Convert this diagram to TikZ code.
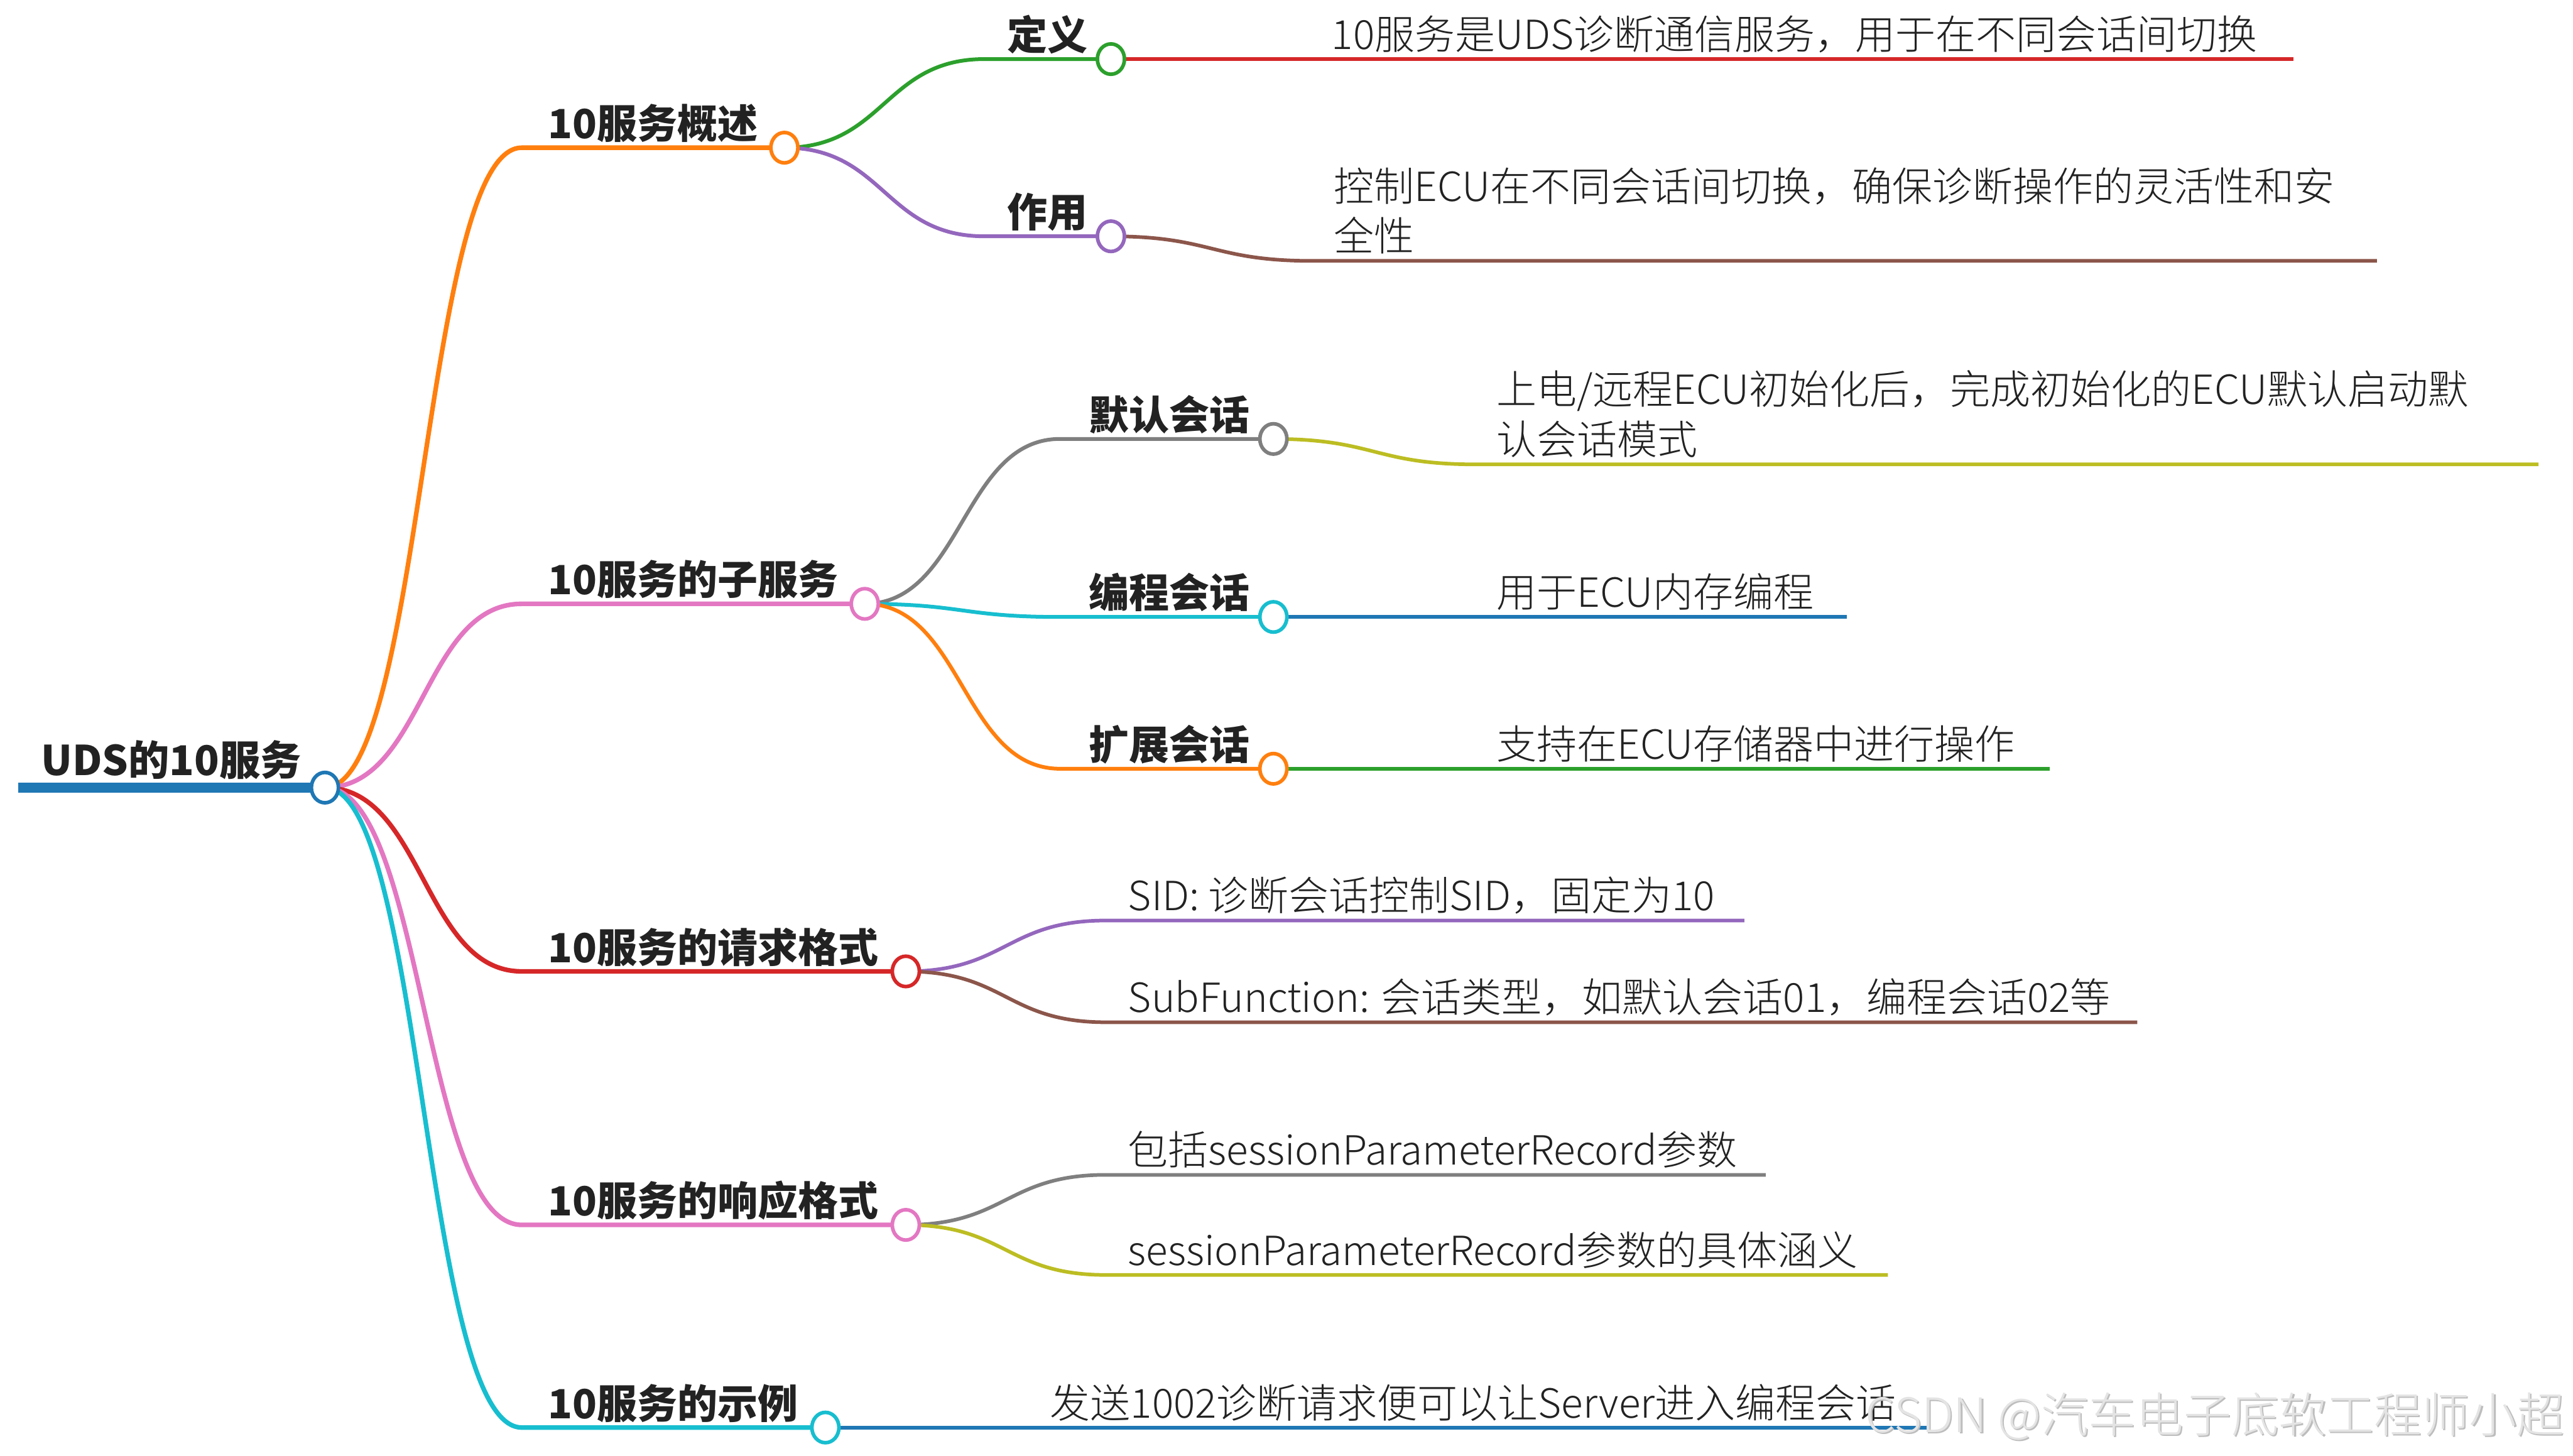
\documentclass[tikz,border=0pt]{standalone}
\usepackage{fontspec}
\setmainfont{Noto Sans CJK SC}
\newfontfamily\lightf{Noto Sans CJK SC Light}
\usetikzlibrary{calc,shapes.geometric}
\definecolor{cblue}{HTML}{1F77B4}
\definecolor{corange}{HTML}{FF7F0E}
\definecolor{cgreen}{HTML}{2CA02C}
\definecolor{cred}{HTML}{D62728}
\definecolor{cpurple}{HTML}{9467BD}
\definecolor{cbrown}{HTML}{8C564B}
\definecolor{cpink}{HTML}{E377C2}
\definecolor{cgray}{HTML}{7F7F7F}
\definecolor{colive}{HTML}{BCBD22}
\definecolor{ccyan}{HTML}{17BECF}
\definecolor{txt}{HTML}{222222}
\definecolor{wm}{HTML}{E4E4E4}
\definecolor{wmshadow}{HTML}{BDBDBD}
\newcommand\mmbranch[4]{\draw[#1] let \p1=(#2), \p2=(#3) in (\p1) .. controls ({(\x1+\x2)/2},\y1) and ({(\x1+\x2)/2},\y2) .. (\p2) -- (#4);}
\begin{document}
\begin{tikzpicture}[x=1pt,y=-1pt,
  lvone/.style={line width=2.8pt,line join=round},
  lvtwo/.style={line width=2.3pt,line join=round},
  lvleaf/.style={line width=2.2pt,line join=round},
  dot/.style={ellipse,draw,fill=white,line width=2.2pt,minimum width=16.5pt,minimum height=18.5pt,inner sep=0pt},
  lbl/.style={anchor=base west,inner sep=0pt,outer sep=0pt,text=txt},
  boldlbl/.style={lbl,font=\fontsize{24.5}{30.5}\selectfont\bfseries},
  rootlbl/.style={lbl,font=\fontsize{25}{30}\selectfont\bfseries},
  leaf/.style={lbl,font=\lightf\fontsize{24.5}{30.5}\selectfont},
  wmark/.style={anchor=base west,inner sep=0pt,font=\lightf\fontsize{29}{29}\selectfont}]
\useasboundingbox (0,0) rectangle (1568,887);
\fill[white] (0,0) rectangle (1568,887);
% centres and line starts
\coordinate (R) at (198,480);   \coordinate (Rs) at (11,480);
\coordinate (As) at (318,90);   \coordinate (A) at (478,90);
\coordinate (Bs) at (318,368);  \coordinate (B) at (527,368);
\coordinate (Cs) at (318,592);  \coordinate (C) at (552,592);
\coordinate (Ds) at (318,746.5);\coordinate (D) at (552,746.5);
\coordinate (Es) at (318,870);  \coordinate (E) at (503,870);
\coordinate (A1s) at (600,36);  \coordinate (A1) at (677,36);
\coordinate (A2s) at (600,144); \coordinate (A2) at (677,144);
\coordinate (B1s) at (646,267.5); \coordinate (B1) at (776,267.5);
\coordinate (B2s) at (646,376);   \coordinate (B2) at (776,376);
\coordinate (B3s) at (646,468.5); \coordinate (B3) at (776,468.5);
\coordinate (L1s) at (800,36);    \coordinate (L1e) at (1397.5,36);
\coordinate (L2s) at (800,159);   \coordinate (L2e) at (1448.5,159);
\coordinate (L3s) at (899,283);   \coordinate (L3e) at (1547,283);
\coordinate (L4s) at (899,376);   \coordinate (L4e) at (1125.5,376);
\coordinate (L5s) at (899,468.5); \coordinate (L5e) at (1249,468.5);
\coordinate (L6s) at (674,561);   \coordinate (L6e) at (1063,561);
\coordinate (L7s) at (674,623);   \coordinate (L7e) at (1302.5,623);
\coordinate (L8s) at (674,716);   \coordinate (L8e) at (1076,716);
\coordinate (L9s) at (674,777);   \coordinate (L9e) at (1150.5,777);
\coordinate (L10s) at (626,870);  \coordinate (L10e) at (1174,870);
% root line
\draw[cblue,line width=6pt] (Rs) -- (R);
% level 1
\mmbranch{lvone,corange}{R}{As}{A}
\mmbranch{lvone,cpink}{R}{Bs}{B}
\mmbranch{lvone,cred}{R}{Cs}{C}
\mmbranch{lvone,cpink}{R}{Ds}{D}
\mmbranch{lvone,ccyan}{R}{Es}{E}
% level 2
\mmbranch{lvtwo,cgreen}{A}{A1s}{A1}
\mmbranch{lvtwo,cpurple}{A}{A2s}{A2}
\mmbranch{lvtwo,cgray}{B}{B1s}{B1}
\mmbranch{lvtwo,ccyan}{B}{B2s}{B2}
\mmbranch{lvtwo,corange}{B}{B3s}{B3}
% leaves
\mmbranch{lvleaf,cred}{A1}{L1s}{L1e}
\mmbranch{lvleaf,cbrown}{A2}{L2s}{L2e}
\mmbranch{lvleaf,colive}{B1}{L3s}{L3e}
\mmbranch{lvleaf,cblue}{B2}{L4s}{L4e}
\mmbranch{lvleaf,cgreen}{B3}{L5s}{L5e}
\mmbranch{lvleaf,cpurple}{C}{L6s}{L6e}
\mmbranch{lvleaf,cbrown}{C}{L7s}{L7e}
\mmbranch{lvleaf,cgray}{D}{L8s}{L8e}
\mmbranch{lvleaf,colive}{D}{L9s}{L9e}
\mmbranch{lvleaf,cblue}{E}{L10s}{L10e}
% circles
\node[dot,draw=cblue] (nR) at (R) {};
\node[dot,draw=corange] (nA) at (A) {};
\node[dot,draw=cpink] (nB) at (B) {};
\node[dot,draw=cred] (nC) at (C) {};
\node[dot,draw=cpink] (nD) at (D) {};
\node[dot,draw=ccyan] (nE) at (E) {};
\node[dot,draw=cgreen] (nA1) at (A1) {};
\node[dot,draw=cpurple] (nA2) at (A2) {};
\node[dot,draw=cgray] (nB1) at (B1) {};
\node[dot,draw=ccyan] (nB2) at (B2) {};
\node[dot,draw=corange] (nB3) at (B3) {};
% labels
\node[rootlbl] (tR) at (25,472.5) {UDS的10服务};
\node[boldlbl] (tA) at (334,84.5) {10服务概述};
\node[boldlbl] (tB) at (334,362.5) {10服务的子服务};
\node[boldlbl] (tC) at (334,586.5) {10服务的请求格式};
\node[boldlbl] (tD) at (334,741) {10服务的响应格式};
\node[boldlbl] (tE) at (334,864.5) {10服务的示例};
\node[boldlbl] (tA1) at (614,30.5) {定义};
\node[boldlbl] (tA2) at (614,138.5) {作用};
\node[boldlbl] (tB1) at (663.5,262) {默认会话};
\node[boldlbl] (tB2) at (663.5,370.5) {编程会话};
\node[boldlbl] (tB3) at (663.5,463) {扩展会话};
\node[leaf] (t1) at (811.5,30) {10服务是UDS诊断通信服务，用于在不同会话间切换};
\node[leaf] (t2) at (813,153) {\begin{tabular}[b]{@{}l@{}}控制ECU在不同会话间切换，确保诊断操作的灵活性和安\\全性\end{tabular}};
\node[leaf] (t3) at (912,277) {\begin{tabular}[b]{@{}l@{}}上电/远程ECU初始化后，完成初始化的ECU默认启动默\\认会话模式\end{tabular}};
\node[leaf] (t4) at (912,370) {用于ECU内存编程};
\node[leaf] (t5) at (912,462.5) {支持在ECU存储器中进行操作};
\node[leaf] (t6) at (687.5,555) {SID: 诊断会话控制SID，固定为10};
\node[leaf] (t7) at (687.5,617) {SubFunction: 会话类型，如默认会话01，编程会话02等};
\node[leaf] (t8) at (687.5,710) {包括sessionParameterRecord参数};
\node[leaf] (t9) at (687.5,771) {sessionParameterRecord参数的具体涵义};
\node[leaf] (t10) at (640,864) {发送1002诊断请求便可以让Server进入编程会话};
% watermark
\node[wmark,text=wmshadow] (wms) at (1137.3,873.8) {CSDN @汽车电子底软工程师小超};
\node[wmark,text=wm] (wmk) at (1136.5,873) {CSDN @汽车电子底软工程师小超};
\end{tikzpicture}
\end{document}
